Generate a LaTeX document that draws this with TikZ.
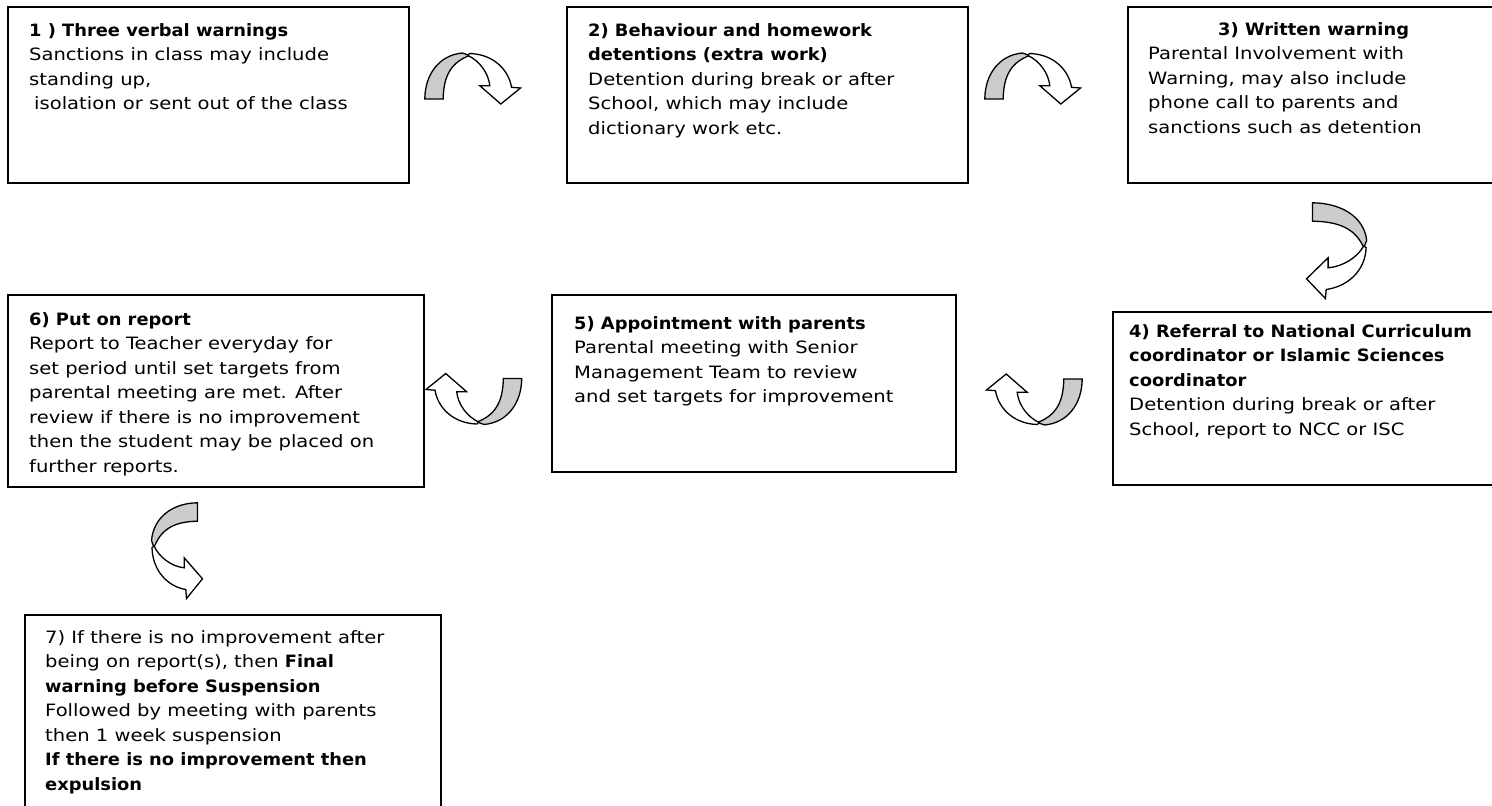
\documentclass[tikz,border=0pt]{standalone}
\usepackage{fontspec}
\setmainfont{DejaVu Sans}[FakeStretch=1.15, BoldFeatures={FakeStretch=1.05}]
\newcommand{\fl}{\rule{0pt}{13.5pt}}
\begin{document}
\begin{tikzpicture}[x=1pt,y=-1pt,
  box/.style={draw, line width=1.8pt, anchor=north west, inner sep=0pt, outer sep=0pt},
  txt/.style={anchor=north west, inner sep=0pt, align=left, font=\fontsize{17}{24.5}\selectfont},
  arrowgray/.style={fill=black!20, draw=black, line width=1.3pt},
  arrowwhite/.style={fill=white, draw=black, line width=1.3pt},
  pics/curvedarrow/.style={code={
    \filldraw[arrowgray] (-47.7,20) .. controls (-47.5,-5) and (-33,-24) .. (-10,-26)
      -- (-3,-23.5) .. controls (-20,-17) and (-29,-5) .. (-29.3,20) -- cycle;
    \filldraw[arrowwhite] (-4.5,-23.5) .. controls (7,-18) and (16,-6) .. (17.3,6.7)
      -- (7.3,6.7) -- (28.3,25) -- (48,9) -- (39,8.3)
      .. controls (36,-10) and (20,-25) .. (-3,-25.5) -- cycle;
  }}]
\useasboundingbox (0,0) rectangle (1492,806);
\clip (0,0) rectangle (1492,806);

% boxes
\node[box, minimum width=401pt, minimum height=176pt] (b1) at (8,7) {};
\node[box, minimum width=401pt, minimum height=176pt] (b2) at (567,7) {};
\node[box, minimum width=420pt, minimum height=176pt] (b3) at (1128,7) {};
\node[box, minimum width=420pt, minimum height=173pt] (b4) at (1113,312) {};
\node[box, minimum width=404pt, minimum height=177pt] (b5) at (552,295) {};
\node[box, minimum width=416pt, minimum height=192pt] (b6) at (8,295) {};
\node[box, minimum width=416pt, minimum height=220pt] (b7) at (25,615) {};

% texts
\node[txt] (t1) at ([shift={(21,15.5)}]b1.north west) {\fl\textbf{1 ) Three verbal warnings}\\
Sanctions in class may include\\
standing up,\\
\hspace*{5pt}isolation or sent out of the class};

\node[txt] (t2) at ([shift={(21,15.5)}]b2.north west) {\fl\textbf{2) Behaviour and homework}\\
\textbf{detentions (extra work)}\\
Detention during break or after\\
School, which may include\\
dictionary work etc.};

\node[txt] (t3) at ([shift={(20,14.5)}]b3.north west) {\fl\hspace*{70pt}\textbf{3) Written warning}\\
Parental Involvement with\\
Warning, may also include\\
phone call to parents and\\
sanctions such as detention};

\node[txt] (t4) at ([shift={(16,11.5)}]b4.north west) {\fl\textbf{4) Referral to National Curriculum}\\
\textbf{coordinator or Islamic Sciences}\\
\textbf{coordinator}\\
Detention during break or after\\
School, report to NCC or ISC};

\node[txt] (t5) at ([shift={(22,20.5)}]b5.north west) {\fl\textbf{5) Appointment with parents}\\
Parental meeting with Senior\\
Management Team to review\\
and set targets for improvement};

\node[txt] (t6) at ([shift={(21,16.5)}]b6.north west) {\fl\textbf{6) Put on report}\\
Report to Teacher everyday for\\
set period until set targets from\\
parental meeting are met. After\\
review if there is no improvement\\
then the student may be placed on\\
further reports.};

\node[txt] (t7) at ([shift={(20,14.5)}]b7.north west) {\fl 7) If there is no improvement after\\
being on report(s), then \textbf{Final}\\
\textbf{warning before Suspension}\\
Followed by meeting with parents\\
then 1 week suspension\\
\textbf{If there is no improvement then}\\
\textbf{expulsion}};

% curved arrows
\pic (a1) at (472.5,79) {curvedarrow};
\pic (a2) at (1032.5,79) {curvedarrow};
\pic[rotate=-90, yscale=1.18] (a3) at (1336,250.5) {curvedarrow};
\pic[rotate=180] (a4) at (1034.5,399) {curvedarrow};
\pic[rotate=180] (a5) at (474,398.5) {curvedarrow};
\pic[xscale=-1, rotate=-90] (a6) at (177.5,550.5) {curvedarrow};
\end{tikzpicture}
\end{document}
